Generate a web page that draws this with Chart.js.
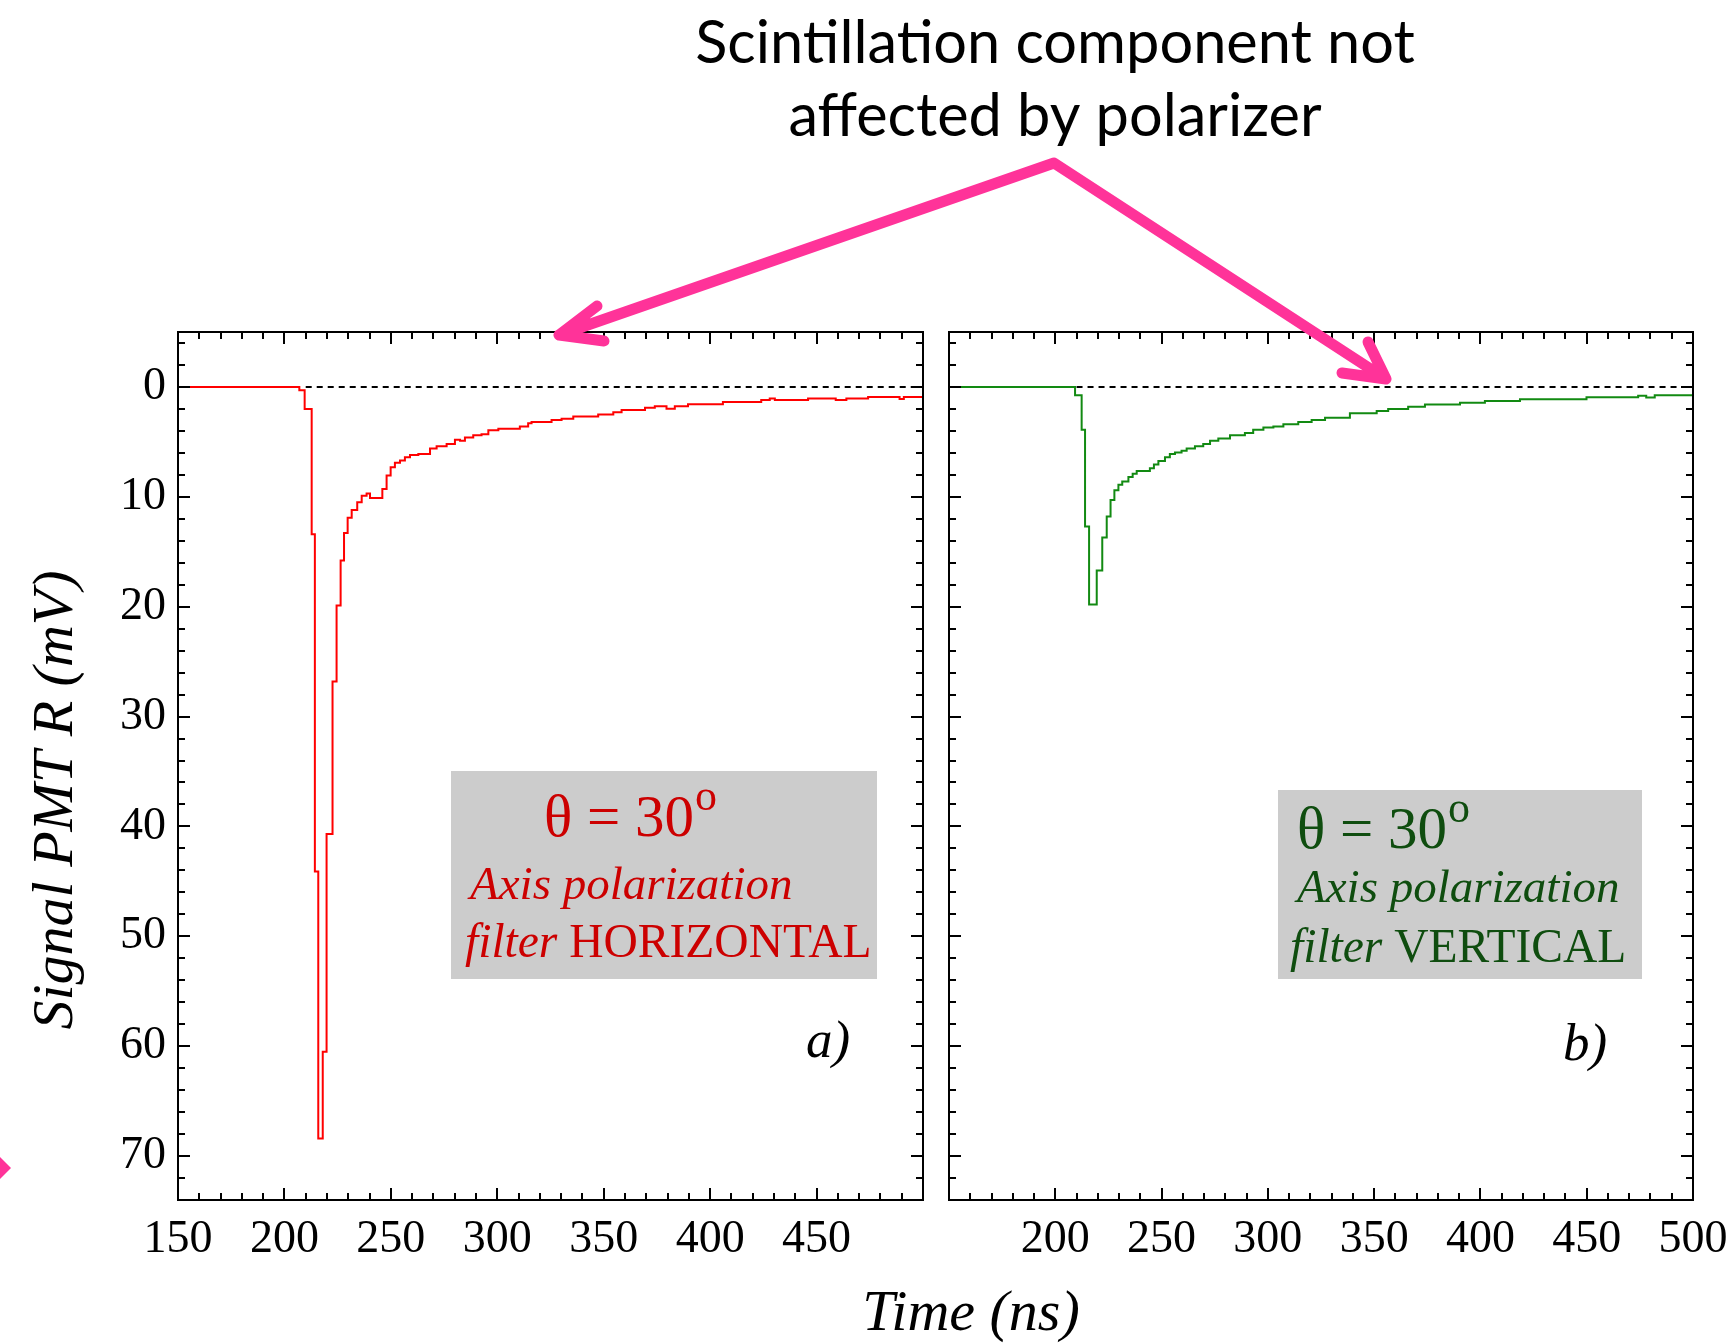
<!DOCTYPE html>
<html>
<head>
<meta charset="utf-8">
<script src="https://cdn.jsdelivr.net/npm/chart.js@4.4.1/dist/chart.umd.min.js"></script>
<style>
  html, body { margin: 0; padding: 0; background: #fff; }
  #wrap { position: relative; width: 1735px; height: 1343px; overflow: hidden; }
  canvas { position: absolute; left: 0; top: 0; }
</style>
</head>
<body>
<div id="wrap">
  <canvas id="panelA" width="1800" height="1343"></canvas>
  <canvas id="panelB" width="1800" height="1343"></canvas>
  <canvas id="overlay" width="1735" height="1343"></canvas>
</div>
<script>
// time (ns) where each step starts, and signal (mV) held from there
const redTime = [150, 207, 209.5, 212.8, 214.3, 215.9, 218, 219.8, 222.6, 224.5, 226.4, 228, 229.7, 231.6,
  234.2, 236.3, 238.6, 240.2, 246, 248, 249.9, 251.9, 254.3, 256.6, 259, 262.9, 268.4, 271.5, 276.2,
  280.1, 282.5, 284.8, 288.7, 292.6, 295.8, 300.5, 310.6, 314.5, 316.1, 325.5, 330.2, 335.7, 347.4,
  354.5, 358.4, 369.4, 374, 379.5, 383.4, 389.6, 406, 424, 428, 430.4, 446, 459, 464, 474.2, 489, 491, 500];
const redSignal = [0, 0.3, 2.0, 13.4, 44.1, 68.4, 60.5, 40.7, 26.8, 19.9, 15.8, 13.3, 11.9, 11.2,
  10.5, 9.9, 9.7, 10.1, 9.3, 8.05, 7.3, 6.9, 6.7, 6.4, 6.2, 6.1, 5.6, 5.4, 5.2,
  4.8, 4.9, 4.6, 4.4, 4.3, 3.95, 3.8, 3.6, 3.3, 3.2, 3.0, 2.9, 2.7, 2.5,
  2.3, 2.1, 1.9, 1.76, 1.98, 1.76, 1.58, 1.37, 1.2, 1.06, 1.2, 1.06, 1.2, 1.06, 0.91, 1.1, 0.91, 0.91];

const greenTime = [150, 209.3, 212.4, 214, 215.9, 219.5, 222.1, 224.2, 226, 227.8, 229.7, 231.5, 234.4,
  236.4, 238.3, 244.5, 246.4, 248.5, 251.6, 253.9, 256.3, 259.4, 261.8, 265.7, 269.6, 272.8, 276.7,
  282.2, 289.2, 293.1, 297.9, 302.6, 307.3, 314.3, 320.6, 326.9, 338.6, 351.2, 356.6, 366, 373.9,
  390.4, 402.1, 418.6, 449.9, 474.2, 478, 482, 500];
const greenSignal = [0, 0.76, 3.9, 12.7, 19.8, 16.7, 13.7, 11.8, 10.3, 9.4, 8.9, 8.6, 8.2,
  7.9, 7.66, 7.4, 7.05, 6.75, 6.4, 6.1, 5.96, 5.8, 5.6, 5.4, 5.2, 4.9, 4.7,
  4.4, 4.2, 3.9, 3.7, 3.6, 3.4, 3.2, 3.0, 2.8, 2.4, 2.2, 2.0, 1.8, 1.6,
  1.43, 1.28, 1.12, 0.94, 0.8, 0.97, 0.76, 0.76];

const zeroLineTime = [210, 500];
const zeroLineSignal = [0, 0];

const timeRange = [150, 500];
const signalRange = [-5, 74];
const timeTicksA = [150, 200, 250, 300, 350, 400, 450];
const timeTicksB = [200, 250, 300, 350, 400, 450, 500];
const signalTicks = [0, 10, 20, 30, 40, 50, 60, 70];

const serif = '"Liberation Serif", "DejaVu Serif", serif';

function points(xs, ys) {
  return xs.map((x, i) => ({ x: x, y: ys[i] }));
}

// frame with inward ticks on all four sides, like the original plot
const framePlugin = {
  id: 'frame',
  afterDraw(chart) {
    const ctx = chart.ctx;
    const a = chart.chartArea;
    const xs = chart.scales.x, ys = chart.scales.y;
    ctx.save();
    ctx.strokeStyle = '#000';
    ctx.lineWidth = 2;
    ctx.strokeRect(a.left, a.top, a.right - a.left, a.bottom - a.top);
    ctx.beginPath();
    for (let t = timeRange[0] + 10; t < timeRange[1]; t += 10) {
      const px = Math.round(xs.getPixelForValue(t));
      const len = t % 50 === 0 ? 12 : 7;
      ctx.moveTo(px, a.bottom); ctx.lineTo(px, a.bottom - len);
      ctx.moveTo(px, a.top); ctx.lineTo(px, a.top + len);
    }
    for (let s = -4; s <= 74; s += 2) {
      const py = Math.round(ys.getPixelForValue(s));
      const len = s % 10 === 0 ? 12 : 7;
      ctx.moveTo(a.left, py); ctx.lineTo(a.left + len, py);
      ctx.moveTo(a.right, py); ctx.lineTo(a.right - len, py);
    }
    ctx.stroke();
    ctx.restore();
  }
};

function makePanel(id, time, signal, color, xTicks, showY, padLeft, padRight) {
  return new Chart(document.getElementById(id), {
    type: 'line',
    data: {
      datasets: [
        {
          data: points(time, signal),
          borderColor: color,
          borderWidth: 2,
          stepped: true,
          pointRadius: 0,
          fill: false
        },
        {
          data: points(zeroLineTime, zeroLineSignal),
          borderColor: '#000',
          borderWidth: 2,
          borderDash: [6, 5],
          pointRadius: 0,
          fill: false
        }
      ]
    },
    options: {
      responsive: false,
      animation: false,
      devicePixelRatio: 1,
      layout: { padding: { left: padLeft, top: 332, right: padRight, bottom: 73 } },
      plugins: { legend: { display: false }, tooltip: { enabled: false } },
      scales: {
        x: {
          type: 'linear',
          min: timeRange[0],
          max: timeRange[1],
          grid: { display: false, drawTicks: false },
          border: { display: false },
          afterBuildTicks: s => { s.ticks = xTicks.map(v => ({ value: v })); },
          afterFit: s => { s.height = 70; },
          ticks: {
            padding: 12,
            color: '#000',
            maxRotation: 0,
            autoSkip: false,
            font: { family: serif, size: 46 }
          }
        },
        y: {
          type: 'linear',
          reverse: true,
          min: signalRange[0],
          max: signalRange[1],
          grid: { display: false, drawTicks: false },
          border: { display: false },
          afterBuildTicks: s => { s.ticks = signalTicks.map(v => ({ value: v })); },
          afterFit: s => { s.width = showY ? 70 : 0; },
          ticks: {
            display: showY,
            padding: 12,
            color: '#000',
            font: { family: serif, size: 46 }
          }
        }
      }
    },
    plugins: [framePlugin]
  });
}

// canvases are 1800 wide (clipped to 1735) so the last tick label never squeezes the frame
makePanel('panelA', redTime, redSignal, '#ff0000', timeTicksA, true, 108, 1800 - 923);
makePanel('panelB', greenTime, greenSignal, '#128a12', timeTicksB, false, 949, 1800 - 1693);

// annotations: title, arrows, text boxes, axis titles
const ctx = document.getElementById('overlay').getContext('2d');

ctx.fillStyle = '#000';
ctx.textAlign = 'center';
ctx.textBaseline = 'alphabetic';
ctx.font = '59.5px Lato, "Open Sans", sans-serif';
ctx.fillText('Scintillation component not', 1055, 63);
ctx.fillText('affected by polarizer', 1055, 136);

ctx.strokeStyle = '#ff3399';
ctx.fillStyle = '#ff3399';
ctx.lineWidth = 11;
ctx.lineCap = 'round';
ctx.lineJoin = 'round';
ctx.beginPath();
ctx.moveTo(559, 335); ctx.lineTo(1054, 163); ctx.lineTo(1386, 379);
ctx.moveTo(597, 306); ctx.lineTo(559, 335); ctx.lineTo(604, 341);
ctx.moveTo(1368, 342); ctx.lineTo(1386, 379); ctx.lineTo(1342, 373);
ctx.stroke();
ctx.beginPath();
ctx.moveTo(0, 1157); ctx.lineTo(11, 1168); ctx.lineTo(0, 1179);
ctx.closePath();
ctx.fill();

function runs(parts, x, y) {
  let cx = x;
  ctx.textAlign = 'left';
  parts.forEach(p => {
    ctx.font = p[1];
    ctx.fillText(p[0], cx, y);
    cx += ctx.measureText(p[0]).width;
  });
  return cx;
}

function infoBox(box, color, x1, y1, x2, y2, x3, y3, word) {
  ctx.fillStyle = '#cccccc';
  ctx.fillRect(box[0], box[1], box[2], box[3]);
  ctx.fillStyle = color;
  const end = runs([['\u03B8 = 30', '59px ' + serif]], x1, y1);
  ctx.font = '44px ' + serif;
  ctx.fillText('o', end + 1, y1 - 26);
  runs([['Axis polarization', 'italic 47px ' + serif]], x2, y2);
  runs([['filter ', 'italic 47.5px ' + serif], [word, '47.5px ' + serif]], x3, y3);
}

infoBox([451, 771, 426, 208], '#cc0000', 544, 836, 470, 899, 465, 957, 'HORIZONTAL');
infoBox([1278, 790, 364, 189], '#0f4d0f', 1297, 848, 1297, 902, 1290, 962, 'VERTICAL');

ctx.fillStyle = '#000';
ctx.font = 'italic 53px ' + serif;
ctx.textAlign = 'left';
ctx.fillText('a)', 806, 1057);
ctx.fillText('b)', 1563, 1060);

ctx.font = 'italic 58px ' + serif;
ctx.textAlign = 'center';
ctx.fillText('Time (ns)', 971, 1330);

ctx.save();
ctx.translate(72, 800);
ctx.rotate(-Math.PI / 2);
ctx.fillText('Signal PMT R (mV)', 0, 0);
ctx.restore();
</script>
</body>
</html>
